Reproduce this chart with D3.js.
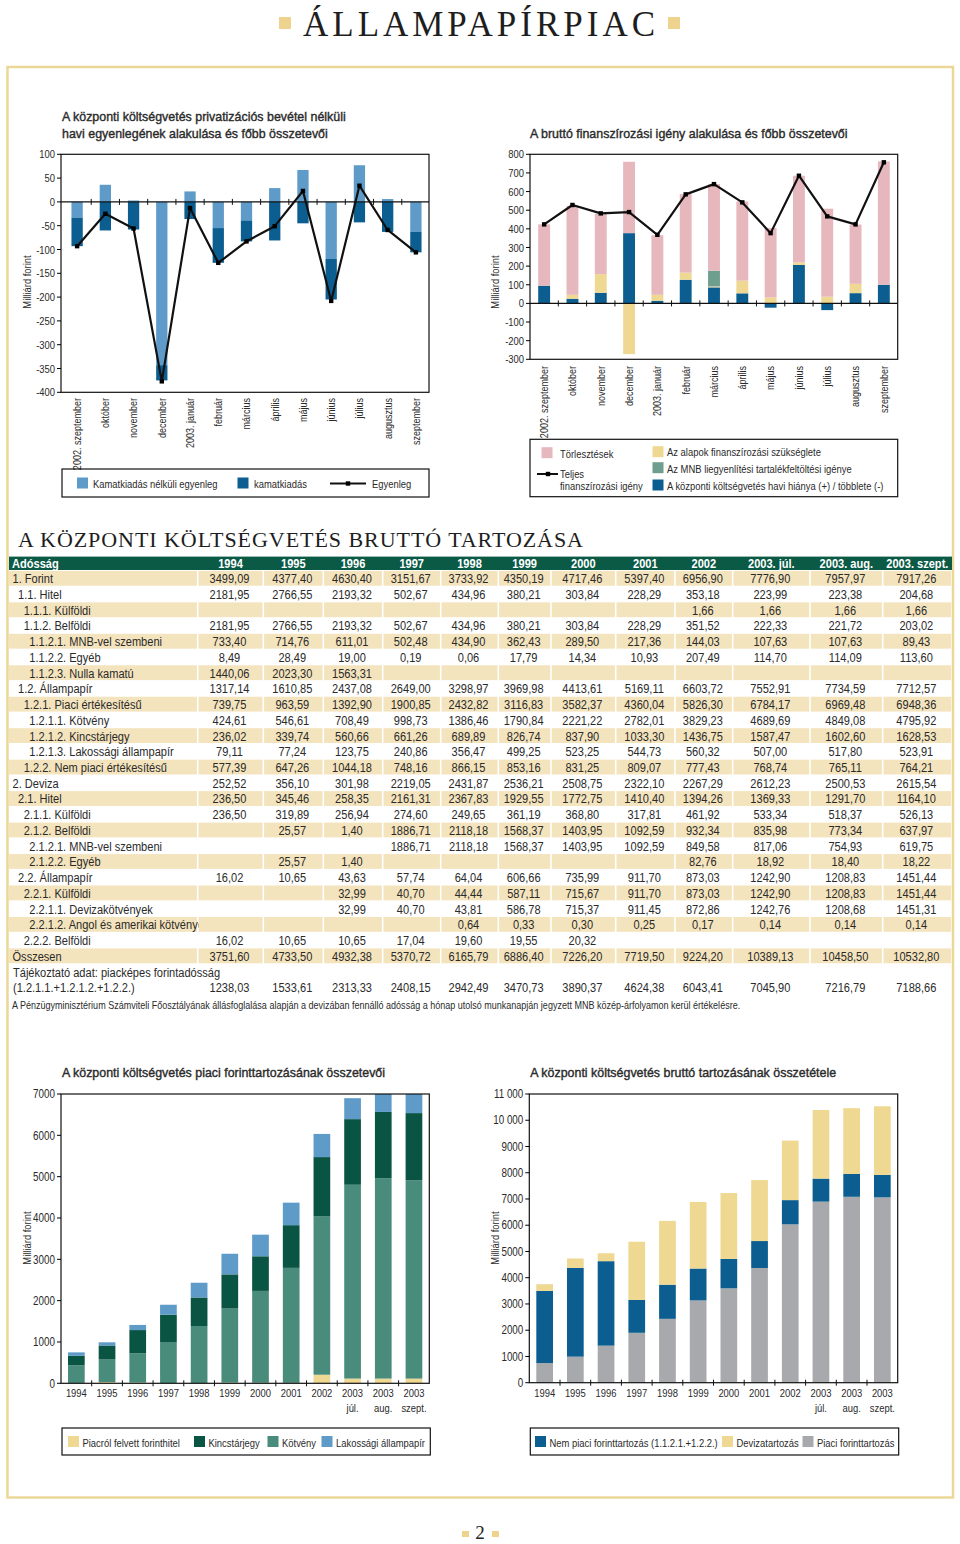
<!DOCTYPE html>
<html><head><meta charset="utf-8">
<script src="https://cdn.jsdelivr.net/npm/d3@7"></script>
<style>body{margin:0;background:#fff}svg{display:block}</style>
</head><body><svg id="page" width="960" height="1544"></svg>
<script>
// ================= DATA =================
// Chart 1: monthly balance
const months = ["2002. szeptember","október","november","december","2003. január","február","március","április","május","június","július","augusztus","szeptember"];
const primaryBalance = [-33, 36, 3, -343, 22, -55, -39, 29, 67, -120, 77, 6, -63];
const interestExp   = [-60, -60, -58, -32, -36, -73, -44, -81, -45, -85, -43, -63, -43];
const balance       = [-93, -25, -56, -377, -13, -128, -83, -51, 23, -208, 34, -59, -106];

// Chart 2: gross financing need
const repayments   = [329, 478, 324, 383, 320, 422, 465, 425, 372, 465, 472, 318, 662];
const fundsNeed    = [0, 21, 100, -272, 32, 38, 5, 68, 32, 14, 36, 50, 0];
const mnbNeed      = [0, 0, 0, 0, 0, 0, 84, 0, 0, 0, 0, 0, 0];
const budgetDeficit= [95, 25, 57, 377, 14, 127, 86, 54, -23, 206, -36, 55, 100];
const totalNeed    = [424, 528, 483, 490, 368, 585, 640, 542, 377, 685, 467, 424, 757];

// Table
const years = ["1994","1995","1996","1997","1998","1999","2000","2001","2002","2003. júl.","2003. aug.","2003. szept."];
const rowLabels = ["1. Forint","1.1. Hitel","1.1.1. Külföldi","1.1.2. Belföldi","1.1.2.1. MNB-vel szembeni","1.1.2.2. Egyéb","1.1.2.3. Nulla kamatú","1.2. Állampapír","1.2.1. Piaci értékesítésű","1.2.1.1. Kötvény","1.2.1.2. Kincstárjegy","1.2.1.3. Lakossági állampapír","1.2.2. Nem piaci értékesítésű","2. Deviza","2.1. Hitel","2.1.1. Külföldi","2.1.2. Belföldi","2.1.2.1. MNB-vel szembeni","2.1.2.2. Egyéb","2.2. Állampapír","2.2.1. Külföldi","2.2.1.1. Devizakötvények","2.2.1.2. Angol és amerikai kötvények","2.2.2. Belföldi","Összesen","Tájékoztató adat: piacképes forintadósság","(1.2.1.1.+1.2.1.2.+1.2.2.)"];
const forint        = [3499.09,4377.40,4630.40,3151.67,3733.92,4350.19,4717.46,5397.40,6956.90,7776.90,7957.97,7917.26];
const fHitel        = [2181.95,2766.55,2193.32,502.67,434.96,380.21,303.84,228.29,353.18,223.99,223.38,204.68];
const fHitelKulf    = [null,null,null,null,null,null,null,null,1.66,1.66,1.66,1.66];
const fHitelBelf    = [2181.95,2766.55,2193.32,502.67,434.96,380.21,303.84,228.29,351.52,222.33,221.72,203.02];
const fHitelMnb     = [733.40,714.76,611.01,502.48,434.90,362.43,289.50,217.36,144.03,107.63,107.63,89.43];
const fHitelEgyeb   = [8.49,28.49,19.00,0.19,0.06,17.79,14.34,10.93,207.49,114.70,114.09,113.60];
const fHitelNulla   = [1440.06,2023.30,1563.31,null,null,null,null,null,null,null,null,null];
const fAllampapir   = [1317.14,1610.85,2437.08,2649.00,3298.97,3969.98,4413.61,5169.11,6603.72,7552.91,7734.59,7712.57];
const fPiaci        = [739.75,963.59,1392.90,1900.85,2432.82,3116.83,3582.37,4360.04,5826.30,6784.17,6969.48,6948.36];
const fKotveny      = [424.61,546.61,708.49,998.73,1386.46,1790.84,2221.22,2782.01,3829.23,4689.69,4849.08,4795.92];
const fKincstar     = [236.02,339.74,560.66,661.26,689.89,826.74,837.90,1033.30,1436.75,1587.47,1602.60,1628.53];
const fLakossagi    = [79.11,77.24,123.75,240.86,356.47,499.25,523.25,544.73,560.32,507.00,517.80,523.91];
const fNemPiaci     = [577.39,647.26,1044.18,748.16,866.15,853.16,831.25,809.07,777.43,768.74,765.11,764.21];
const deviza        = [252.52,356.10,301.98,2219.05,2431.87,2536.21,2508.75,2322.10,2267.29,2612.23,2500.53,2615.54];
const dHitel        = [236.50,345.46,258.35,2161.31,2367.83,1929.55,1772.75,1410.40,1394.26,1369.33,1291.70,1164.10];
const dHitelKulf    = [236.50,319.89,256.94,274.60,249.65,361.19,368.80,317.81,461.92,533.34,518.37,526.13];
const dHitelBelf    = [null,25.57,1.40,1886.71,2118.18,1568.37,1403.95,1092.59,932.34,835.98,773.34,637.97];
const dHitelMnb     = [null,null,null,1886.71,2118.18,1568.37,1403.95,1092.59,849.58,817.06,754.93,619.75];
const dHitelEgyeb   = [null,25.57,1.40,null,null,null,null,null,82.76,18.92,18.40,18.22];
const dAllampapir   = [16.02,10.65,43.63,57.74,64.04,606.66,735.99,911.70,873.03,1242.90,1208.83,1451.44];
const dApKulf       = [null,null,32.99,40.70,44.44,587.11,715.67,911.70,873.03,1242.90,1208.83,1451.44];
const dApDevizakotv = [null,null,32.99,40.70,43.81,586.78,715.37,911.45,872.86,1242.76,1208.68,1451.31];
const dApAngol      = [null,null,null,null,0.64,0.33,0.30,0.25,0.17,0.14,0.14,0.14];
const dApBelf       = [16.02,10.65,10.65,17.04,19.60,19.55,20.32,null,null,null,null,null];
const osszesen      = [3751.60,4733.50,4932.38,5370.72,6165.79,6886.40,7226.20,7719.50,9224.20,10389.13,10458.50,10532.80];
const emptyRow      = [null,null,null,null,null,null,null,null,null,null,null,null];
const piackepes     = [1238.03,1533.61,2313.33,2408.15,2942.49,3470.73,3890.37,4624.38,6043.41,7045.90,7216.79,7188.66];

// Bottom charts categories
const barYears = ["1994","1995","1996","1997","1998","1999","2000","2001","2002","2003|júl.","2003|aug.","2003|szept."];

// ================= STYLE =================
const SANS = "'Liberation Sans',Arial,sans-serif";
const SX = 0.82;   // horizontal condensing to mimic a narrow face
const SX_TITLE = 0.92;
const SERIF = "'Liberation Serif','DejaVu Serif',serif";
const TXT = "#2a2a2a";
const GOLD = "#EBD896";
const C = {
  lightBlue:"#5E9BC8", darkBlue:"#0C5E90", pink:"#E6B7BC", yellow:"#EFD891",
  mnb:"#6E9E8E", kotveny:"#4A8C7B", kincstar:"#0A5443", gray:"#A7A9AC",
  headGreen:"#0B5A45", beige:"#F4E4BD"
};

const svg = d3.select("#page");
const defs = svg.append("defs");
svg.append("rect").attr("width",960).attr("height",1544).attr("fill","#fff");

// ================= helpers =================
function txt(g, x, y, s, opt={}) {
  const sx = opt.sx || SX;
  const t = g.append("text")
    .attr("transform",`translate(${x},${y})${opt.rot!==undefined?` rotate(${opt.rot})`:""} scale(${sx},1)`)
    .attr("font-family",SANS).attr("font-size",opt.size||11).attr("fill",opt.fill||TXT).text(s);
  if (opt.anchor) t.attr("text-anchor",opt.anchor);
  if (opt.weight) t.attr("font-weight",opt.weight);
  if (opt.dy) t.attr("dy",opt.dy);
  if (opt.medium) t.attr("stroke",opt.fill||TXT).attr("stroke-width",0.4);
  return t;
}
function title(g, x, y, s) { return txt(g,x,y,s,{size:13.5,medium:true,sx:SX_TITLE}); }
function yAxis(g, y, x0, ticks, fmt, size) {
  ticks.forEach(t=>{
    g.append("line").attr("x1",x0-4).attr("x2",x0).attr("y1",y(t)).attr("y2",y(t)).attr("stroke","#000");
    txt(g,x0-6,y(t),fmt?fmt(t):String(t),{size,anchor:"end",dy:"0.35em"});
  });
}
function box(g, x, y, w, h) {
  g.append("rect").attr("x",x).attr("y",y).attr("width",w).attr("height",h)
    .attr("fill","none").attr("stroke","#111").attr("stroke-width",1.2);
}
function marker(g, x, y) {
  g.append("rect").attr("x",x-2.2).attr("y",y-2.2).attr("width",4.4).attr("height",4.4).attr("fill","#000");
}

// Page title
svg.append("rect").attr("x",279).attr("y",17).attr("width",12).attr("height",12).attr("fill","#EDD38E");
svg.append("rect").attr("x",668).attr("y",17).attr("width",12).attr("height",12).attr("fill","#EDD38E");
svg.append("text").attr("x",303).attr("y",36).attr("font-family",SERIF).attr("font-size",35)
  .attr("fill","#1e1e1e").attr("textLength",352).attr("lengthAdjust","spacing").text("ÁLLAMPAPÍRPIAC");

// Frame
svg.append("rect").attr("x",7.5).attr("y",67).attr("width",945.5).attr("height",1430.5)
  .attr("fill","none").attr("stroke",GOLD).attr("stroke-width",2.5);

// Page number
svg.append("rect").attr("x",462).attr("y",1531).attr("width",7).attr("height",6).attr("fill","#EDD38E");
svg.append("rect").attr("x",492).attr("y",1531).attr("width",7).attr("height",6).attr("fill","#EDD38E");
svg.append("text").attr("x",480).attr("y",1539).attr("text-anchor","middle").attr("font-family",SERIF)
  .attr("font-size",19).attr("fill","#222").text("2");

// ================= CHART 1 =================
{
  const g = svg.append("g");
  title(g,62,121,"A központi költségvetés privatizációs bevétel nélküli");
  title(g,62,138,"havi egyenlegének alakulása és főbb összetevői");
  const L=61,R=429,T=154.3,B=392.3;
  const x = d3.scaleBand().domain(months).range([63,430]).paddingInner(0.6).paddingOuter(0.3);
  const y = d3.scaleLinear().domain([-400,100]).range([B,T]);
  const rows = months.map((m,i)=>({m, p:primaryBalance[i], k:interestExp[i]}));
  const series = d3.stack().keys(["p","k"]).offset(d3.stackOffsetDiverging)(rows);
  const col = {p:C.lightBlue, k:C.darkBlue};
  series.forEach(s=>{
    g.append("g").selectAll("rect").data(s).join("rect")
      .attr("x",d=>x(d.data.m)).attr("width",x.bandwidth())
      .attr("y",d=>y(Math.max(d[0],d[1]))).attr("height",d=>Math.abs(y(d[0])-y(d[1])))
      .attr("fill",col[s.key]);
  });
  const y0 = y(0);
  g.append("line").attr("x1",L).attr("x2",R).attr("y1",y0).attr("y2",y0).attr("stroke","#111").attr("stroke-width",1.2);
  for (let k=1;k<months.length;k++){
    const xx = x.range()[0] + x.step()*k;
    g.append("line").attr("x1",xx).attr("x2",xx).attr("y1",y0-3).attr("y2",y0+3).attr("stroke","#111");
  }
  box(g,L,T,R-L,B-T);
  const cx = m => x(m)+x.bandwidth()/2;
  g.append("path").datum(months).attr("fill","none").attr("stroke","#111").attr("stroke-width",2.2)
    .attr("stroke-linejoin","round")
    .attr("d",d3.line().x(m=>cx(m)).y((m,i)=>y(balance[i])));
  months.forEach((m,i)=>marker(g,cx(m),y(balance[i])));
  yAxis(g,y,L,d3.range(-400,101,50),null,11.5);
  months.forEach(m=>txt(g,cx(m),398,m,{size:11,rot:-90,anchor:"end",dy:"0.35em"}));
  txt(g,31,282,"Milliárd forint",{size:11.5,rot:-90,anchor:"middle"});
  // legend
  box(g,62,469,367,28);
  g.append("rect").attr("x",77).attr("y",477.5).attr("width",11).attr("height",11).attr("fill",C.lightBlue);
  txt(g,93,487.5,"Kamatkiadás nélküli egyenleg",{size:11.5});
  g.append("rect").attr("x",237.5).attr("y",477.5).attr("width",11).attr("height",11).attr("fill",C.darkBlue);
  txt(g,254,487.5,"kamatkiadás",{size:11.5});
  g.append("line").attr("x1",330).attr("x2",366).attr("y1",483.5).attr("y2",483.5).attr("stroke","#111").attr("stroke-width",2);
  marker(g,348,483.5);
  txt(g,372,487.5,"Egyenleg",{size:11.5});
}

// ================= CHART 2 =================
{
  const g = svg.append("g");
  title(g,530,138,"A bruttó finanszírozási igény alakulása és főbb összetevői");
  const L=530,R=897.7,T=154.3,B=359.3;
  const x = d3.scaleBand().domain(months).range([530,898]).paddingInner(0.58).paddingOuter(0.29);
  const y = d3.scaleLinear().domain([-300,800]).range([B,T]);
  const rows = months.map((m,i)=>({m, kv:budgetDeficit[i], alap:fundsNeed[i], mnb:mnbNeed[i], tor:repayments[i]}));
  const series = d3.stack().keys(["kv","alap","mnb","tor"]).offset(d3.stackOffsetDiverging)(rows);
  const col = {kv:C.darkBlue, alap:C.yellow, mnb:C.mnb, tor:C.pink};
  series.forEach(s=>{
    g.append("g").selectAll("rect").data(s.filter(d=>d[1]!==d[0])).join("rect")
      .attr("x",d=>x(d.data.m)).attr("width",x.bandwidth())
      .attr("y",d=>y(Math.max(d[0],d[1]))).attr("height",d=>Math.abs(y(d[0])-y(d[1])))
      .attr("fill",col[s.key]);
  });
  const y0 = y(0);
  g.append("line").attr("x1",L).attr("x2",R).attr("y1",y0).attr("y2",y0).attr("stroke","#111").attr("stroke-width",1.2);
  for (let k=1;k<months.length;k++){
    const xx = x.range()[0] + x.step()*k;
    g.append("line").attr("x1",xx).attr("x2",xx).attr("y1",y0-3).attr("y2",y0+3).attr("stroke","#111");
  }
  box(g,L,T,R-L,B-T);
  const cx = m => x(m)+x.bandwidth()/2;
  g.append("path").datum(months).attr("fill","none").attr("stroke","#111").attr("stroke-width",2.2)
    .attr("stroke-linejoin","round")
    .attr("d",d3.line().x(m=>cx(m)).y((m,i)=>y(totalNeed[i])));
  months.forEach((m,i)=>marker(g,cx(m),y(totalNeed[i])));
  yAxis(g,y,L,d3.range(-300,801,100),null,11.5);
  months.forEach(m=>txt(g,cx(m),366,m,{size:11,rot:-90,anchor:"end",dy:"0.35em"}));
  txt(g,499,282,"Milliárd forint",{size:11.5,rot:-90,anchor:"middle"});
  // legend
  box(g,530,439.3,367.7,57.4);
  g.append("rect").attr("x",541.5).attr("y",447.2).attr("width",11).attr("height",11).attr("fill",C.pink);
  txt(g,560,457.5,"Törlesztések",{size:11.5});
  g.append("line").attr("x1",537).attr("x2",558).attr("y1",474).attr("y2",474).attr("stroke","#111").attr("stroke-width",2);
  marker(g,548,474);
  txt(g,560,478,"Teljes",{size:11.5});
  txt(g,560,489.5,"finanszírozási igény",{size:11.5});
  g.append("rect").attr("x",652.5).attr("y",446.2).attr("width",11).attr("height",11).attr("fill",C.yellow);
  txt(g,667,456,"Az alapok finanszírozási szükséglete",{size:11.5});
  g.append("rect").attr("x",652.5).attr("y",462.2).attr("width",11).attr("height",11).attr("fill",C.mnb);
  txt(g,667,472.5,"Az MNB liegyenlítési tartalékfeltöltési igénye",{size:11.5});
  g.append("rect").attr("x",652.5).attr("y",479.5).attr("width",11).attr("height",11).attr("fill",C.darkBlue);
  txt(g,667,489.5,"A központi költségvetés havi hiánya (+) / többlete (-)",{size:11.5});
}

// ================= TABLE =================
{
  const g = svg.append("g");
  svg.append("text").attr("x",18).attr("y",547).attr("font-family",SERIF).attr("font-size",22)
    .attr("fill","#1e1e1e").attr("textLength",565).attr("lengthAdjust","spacing")
    .text("A KÖZPONTI KÖLTSÉGVETÉS BRUTTÓ TARTOZÁSA");
  const edges = [9,197.7,263.3,323.3,382.7,440.7,498.3,551,615.7,675,732.7,810,882.7,952];
  const rowData = [forint,fHitel,fHitelKulf,fHitelBelf,fHitelMnb,fHitelEgyeb,fHitelNulla,fAllampapir,fPiaci,fKotveny,fKincstar,fLakossagi,fNemPiaci,deviza,dHitel,dHitelKulf,dHitelBelf,dHitelMnb,dHitelEgyeb,dAllampapir,dApKulf,dApDevizakotv,dApAngol,dApBelf,osszesen,emptyRow,piackepes];
  const FS = 13.5;
  // header
  g.append("rect").attr("x",edges[0]).attr("y",556.6).attr("width",edges[13]-edges[0]).attr("height",13.4).attr("fill",C.headGreen);
  txt(g,12,567.6,"Adósság",{size:FS,weight:"bold",fill:"#fff"});
  years.forEach((yr,c)=>txt(g,(edges[c+1]+edges[c+2])/2,567.6,yr,{size:FS,weight:"bold",fill:"#fff",anchor:"middle"}));
  const rowH = 15.73, top0 = 570.6;
  defs.append("clipPath").attr("id","labclip").append("rect").attr("x",0).attr("y",0).attr("width",198.5).attr("height",1544);
  const fmt = v => v.toFixed(2).replace(".",",");
  const labG = g.append("g").attr("clip-path","url(#labclip)");
  rowLabels.forEach((lab,i)=>{
    const top = top0 + i*rowH;
    const beige = (i%2===0) && i<25;
    if (beige) {
      for (let c=0;c<13;c++){
        g.append("rect").attr("x",edges[c]+(c?0.8:0)).attr("y",top+0.3)
          .attr("width",edges[c+1]-edges[c]-(c?1.6:0.8)).attr("height",rowH-0.9).attr("fill",C.beige);
      }
    }
    const base = top + rowH/2 + 4.8;
    const m = lab.match(/^([\d.]+)\s/);
    let lx = 12.5;
    if (m) { const lvl = m[1].split(".").filter(s=>s).length; lx = 12.5 + (lvl-1)*5.6; }
    if (i>=25) lx = 13;
    txt(i<25?labG:g,lx,base,lab,{size:FS});
    rowData[i].forEach((v,c)=>{
      if (v===null) return;
      txt(g,(edges[c+1]+edges[c+2])/2-1,base,fmt(v),{size:FS,anchor:"middle"});
    });
  });
  labG.raise();
  txt(g,12,1008.5,"A Pénzügyminisztérium Számviteli Főosztályának állásfoglalása alapján a devizában fennálló adósság a hónap utolsó munkanapján jegyzett MNB közép-árfolyamon kerül értékelésre.",{size:11});
}

// ================= bottom charts helper =================
function bottomChart(opt) {
  const g = svg.append("g");
  title(g,opt.L+1,1077,opt.title);
  const x = d3.scaleBand().domain(barYears).range([opt.L,opt.R]).paddingInner(0.456).paddingOuter(0.228);
  const y = d3.scaleLinear().domain([0,opt.max]).range([opt.B,opt.T]);
  const rows = barYears.map((c,i)=>{ const o={c}; opt.keys.forEach(k=>o[k]=opt.data[k][i]); return o; });
  const series = d3.stack().keys(opt.keys)(rows);
  const cid = "cp"+Math.round(opt.L);
  defs.append("clipPath").attr("id",cid).append("rect")
    .attr("x",opt.L).attr("y",opt.T).attr("width",opt.R-opt.L).attr("height",opt.B-opt.T);
  const bars = g.append("g").attr("clip-path",`url(#${cid})`);
  series.forEach(s=>{
    bars.append("g").selectAll("rect").data(s).join("rect")
      .attr("x",d=>x(d.data.c)).attr("width",x.bandwidth())
      .attr("y",d=>y(d[1])).attr("height",d=>Math.max(0,y(d[0])-y(d[1])))
      .attr("fill",opt.colors[s.key]);
  });
  box(g,opt.L,opt.T,opt.R-opt.L,opt.B-opt.T);
  for (let k=1;k<barYears.length;k++){
    const xx = opt.L + x.step()*k;
    g.append("line").attr("x1",xx).attr("x2",xx).attr("y1",opt.B-3).attr("y2",opt.B+3).attr("stroke","#111");
  }
  yAxis(g,y,opt.L,opt.ticks,opt.tickFmt,12);
  barYears.forEach(c=>{
    const parts = c.split("|");
    const cx = x(c)+x.bandwidth()/2;
    parts.forEach((p,j)=>txt(g,cx,1397+j*15,p,{size:11.5,anchor:"middle"}));
  });
  txt(g,opt.yLabX,1238,"Milliárd forint",{size:11.5,rot:-90,anchor:"middle"});
  box(g,opt.L+1,1428,opt.R-opt.L,27);
  opt.legend.forEach(it=>{
    g.append("rect").attr("x",it.x).attr("y",1436).attr("width",11).attr("height",11).attr("fill",it.color);
    txt(g,it.x+14.5,1446.5,it.label,{size:11.5});
  });
}

// Chart 3
bottomChart({
  title:"A központi költségvetés piaci forinttartozásának összetevői",
  L:61, R:429.3, T:1094, B:1383.3, max:7000, ticks:d3.range(0,7001,1000), yLabX:31,
  keys:["hitel","kotveny","kincstar","lakossagi"],
  data:{hitel:fHitelEgyeb, kotveny:fKotveny, kincstar:fKincstar, lakossagi:fLakossagi},
  colors:{hitel:C.yellow, kotveny:C.kotveny, kincstar:C.kincstar, lakossagi:C.lightBlue},
  legend:[
    {x:68,color:C.yellow,label:"Piacról felvett forinthitel"},
    {x:194,color:C.kincstar,label:"Kincstárjegy"},
    {x:267.5,color:C.kotveny,label:"Kötvény"},
    {x:321.5,color:C.lightBlue,label:"Lakossági állampapír"}
  ]
});

// Chart 4
bottomChart({
  title:"A központi költségvetés bruttó tartozásának összetétele",
  L:529.3, R:897.7, T:1094, B:1382.7, max:11000, ticks:d3.range(0,11001,1000), yLabX:499,
  tickFmt:d=> d>=10000 ? String(d).replace(/(\d{2})(\d{3})/,"$1 $2") : String(d),
  keys:["piaci","nempiaci","deviza"],
  data:{
    piaci: fPiaci.map((v,i)=>v+fHitelEgyeb[i]),
    nempiaci: forint.map((v,i)=>v-fPiaci[i]-fHitelEgyeb[i]),
    deviza: deviza
  },
  colors:{piaci:C.gray, nempiaci:C.darkBlue, deviza:C.yellow},
  legend:[
    {x:535,color:C.darkBlue,label:"Nem piaci forinttartozás (1.1.2.1.+1.2.2.)"},
    {x:722,color:C.yellow,label:"Devizatartozás"},
    {x:802.5,color:C.gray,label:"Piaci forinttartozás"}
  ]
});
</script></body></html>
